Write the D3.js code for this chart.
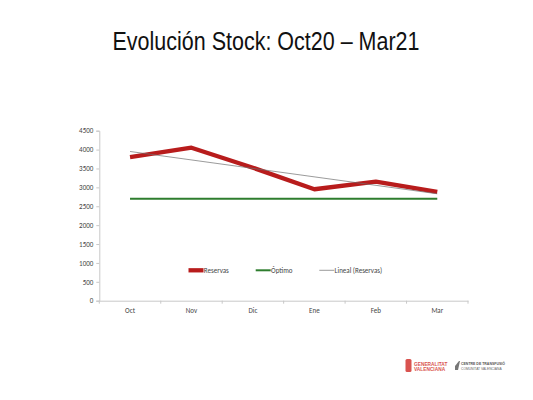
<!DOCTYPE html>
<html>
<head>
<meta charset="utf-8">
<script src="https://cdn.jsdelivr.net/npm/d3@7"></script>
<style>
  html, body { margin: 0; padding: 0; background: #fff; }
  svg { display: block; }
</style>
</head>
<body>
<svg id="chart" width="533" height="400"></svg>
<script>
// Chart data
const months = ["Oct", "Nov", "Dic", "Ene", "Feb", "Mar"];
const reservas = [3800, 4050, 3520, 2950, 3150, 2880];
const optimo = [2700, 2700, 2700, 2700, 2700, 2700];
// trend line end points (first and last month)
const lineal = [3950, 2830];
const yTicks = [0, 500, 1000, 1500, 2000, 2500, 3000, 3500, 4000, 4500];

(function () {
  const svg = d3.select("#chart");
  const W = 533, H = 400;
  svg.append("rect").attr("width", W).attr("height", H).attr("fill", "#fff");

  // Title
  svg.append("text")
    .attr("x", 112.5).attr("y", 49.5)
    .attr("font-family", "'Liberation Sans Narrow', 'Liberation Sans', Arial, sans-serif")
    .attr("font-size", 26)
    .attr("textLength", 307).attr("lengthAdjust", "spacingAndGlyphs")
    .attr("fill", "#111")
    .text("Evolución Stock: Oct20 – Mar21");

  // Plot area
  const pl = 99.3, pr = 468, pt = 130.7, pb = 300.7;
  const x = d3.scaleBand().domain(months).range([pl, pr]);
  const cx = m => x(m) + x.bandwidth() / 2;
  const y = d3.scaleLinear().domain([0, 4500]).range([pb, pt]);

  const font = "Carlito, 'Open Sans', 'DejaVu Sans', sans-serif";
  const axisColor = "#c8c8c8";

  // Y axis
  const yAxis = svg.append("g").attr("transform", `translate(${pl},0)`)
    .call(d3.axisLeft(y).tickValues(yTicks).tickFormat(d3.format("d")).tickSize(3).tickPadding(3));
  yAxis.select(".domain").attr("stroke", axisColor);
  yAxis.selectAll(".tick line").attr("stroke", axisColor);
  yAxis.selectAll(".tick text").attr("font-family", font).attr("font-size", 7).attr("fill", "#444");

  // X axis with tick marks at band edges
  const xAxis = svg.append("g").attr("transform", `translate(0,${pb})`)
    .call(d3.axisBottom(x).tickSize(0).tickPadding(7));
  xAxis.select(".domain").attr("stroke", axisColor);
  xAxis.selectAll(".tick text").attr("font-family", font).attr("font-size", 7).attr("fill", "#444");
  xAxis.selectAll(".edge").data(months.map(m => x(m)).concat([pr]))
    .enter().append("line").attr("class", "edge")
    .attr("x1", d => d).attr("x2", d => d).attr("y1", 0).attr("y2", 3)
    .attr("stroke", axisColor);

  const line = d3.line().x(d => cx(d.m)).y(d => y(d.v));

  // Óptimo
  svg.append("path")
    .attr("d", line(months.map((m, i) => ({ m, v: optimo[i] }))))
    .attr("fill", "none").attr("stroke", "#2e7d2e").attr("stroke-width", 2);

  // Reservas
  svg.append("path")
    .attr("d", line(months.map((m, i) => ({ m, v: reservas[i] }))))
    .attr("fill", "none").attr("stroke", "#b81c1c").attr("stroke-width", 4.3)
    .attr("stroke-linejoin", "round");

  // Lineal (Reservas)
  svg.append("path")
    .attr("d", line([{ m: months[0], v: lineal[0] }, { m: months[months.length - 1], v: lineal[1] }]))
    .attr("fill", "none").attr("stroke", "#707070").attr("stroke-width", 0.7);

  // Legend
  const legend = [
    { label: "Reservas", color: "#b81c1c", w: 4.3, x0: 188.5 },
    { label: "Óptimo", color: "#2e7d2e", w: 2, x0: 255.7 },
    { label: "Lineal (Reservas)", color: "#707070", w: 0.7, x0: 319.3 }
  ];
  const ly = 270.3;
  const lg = svg.append("g");
  lg.selectAll("line").data(legend).enter().append("line")
    .attr("x1", d => d.x0).attr("x2", d => d.x0 + 15)
    .attr("y1", ly).attr("y2", ly)
    .attr("stroke", d => d.color).attr("stroke-width", d => d.w);
  lg.selectAll("text").data(legend).enter().append("text")
    .attr("x", d => d.x0 + 15.3).attr("y", ly + 2.5)
    .attr("font-family", font).attr("font-size", 7).attr("fill", "#444")
    .text(d => d.label);

  // Footer logos
  const logo = svg.append("g");
  const lf = "'Liberation Sans', Arial, sans-serif";
  logo.append("rect").attr("x", 405.5).attr("y", 359).attr("width", 6).attr("height", 13)
    .attr("fill", "#d9534f").attr("rx", 1.5);
  logo.append("text").attr("x", 414).attr("y", 365.5)
    .attr("font-family", lf).attr("font-size", 4.8)
    .attr("font-weight", "bold").attr("fill", "#d9534f").text("GENERALITAT");
  logo.append("text").attr("x", 414).attr("y", 371)
    .attr("font-family", lf).attr("font-size", 4.8)
    .attr("font-weight", "bold").attr("fill", "#d9534f").text("VALENCIANA");
  logo.append("path").attr("d", "M455,366 L459,361 L460,361 L458,370 L455,370 Z").attr("fill", "#777");
  logo.append("text").attr("x", 461).attr("y", 365)
    .attr("font-family", lf).attr("font-size", 3.5)
    .attr("font-weight", "bold").attr("fill", "#555").text("CENTRE DE TRANSFUSIÓ");
  logo.append("text").attr("x", 461).attr("y", 369.5)
    .attr("font-family", lf).attr("font-size", 3.3)
    .attr("fill", "#666").text("COMUNITAT VALENCIANA");
})();
</script>
</body>
</html>
